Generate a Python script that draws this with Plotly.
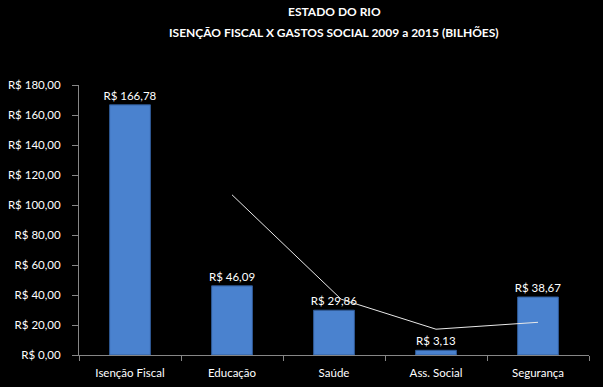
import plotly.graph_objects as go

categories = ["Isenção Fiscal", "Educação", "Saúde", "Ass. Social", "Segurança"]
values = [166.78, 46.09, 29.86, 3.13, 38.67]
line_x = [1.0, 2.07, 3.0, 4.0]
line_y = [106.8, 37.2, 17.2, 21.8]
y_ticks = [0, 20, 40, 60, 80, 100, 120, 140, 160, 180]
title_lines = ["ESTADO DO RIO", "ISENÇÃO FISCAL X GASTOS SOCIAL 2009 a 2015 (BILHÕES)"]

def brl(v):
    return "R$ " + f"{v:.2f}".replace(".", ",")

font_family = "Lato, Open Sans, sans-serif"

fig = go.Figure()
fig.add_trace(go.Bar(
    x=categories, y=values,
    text=[brl(v) for v in values],
    textposition="outside",
    constraintext="none",
    textfont=dict(color="white", size=11.5, family=font_family),
    marker=dict(color="#4a82cf", line=dict(color="#2f5a96", width=1)),
    cliponaxis=False,
    width=0.4,
))
fig.add_trace(go.Scatter(
    x=line_x, y=line_y, xaxis="x2", mode="lines",
    line=dict(color="#e8e8e8", width=1),
    hoverinfo="skip",
))
for txt, ypos in zip(title_lines, [1.2704, 1.1926]):
    fig.add_annotation(
        text="<b>" + txt + "</b>", xref="paper", yref="paper",
        x=0.5, y=ypos, xanchor="center", yanchor="middle", showarrow=False,
        font=dict(color="white", size=12, family=font_family),
    )
fig.update_layout(
    width=603, height=387,
    paper_bgcolor="black", plot_bgcolor="black",
    margin=dict(l=79, r=14, t=85, b=32, autoexpand=False),
    showlegend=False,
    xaxis=dict(
        type="category", showgrid=False, showline=True, linecolor="#868686", linewidth=1,
        ticks="outside", tickson="boundaries", ticklen=5, tickcolor="#868686",
        tickfont=dict(color="white", size=11.5, family=font_family),
        ticklabelstandoff=7, automargin=False,
        range=[-0.5, 4.5],
    ),
    xaxis2=dict(overlaying="x", range=[-0.5, 4.5], visible=False),
    yaxis=dict(
        range=[0, 180], showgrid=False, zeroline=False, showline=True,
        linecolor="#868686", linewidth=1, ticks="outside", ticklen=6, tickcolor="#868686",
        tickvals=y_ticks, ticktext=[brl(v) for v in y_ticks],
        tickfont=dict(color="white", size=11.5, family=font_family),
        ticklabelstandoff=9, automargin=False,
    ),
)
fig.write_html(
    "out.html",
    config={"displayModeBar": False},
    post_script="document.body.style.margin='0';document.body.style.background='black';",
)
